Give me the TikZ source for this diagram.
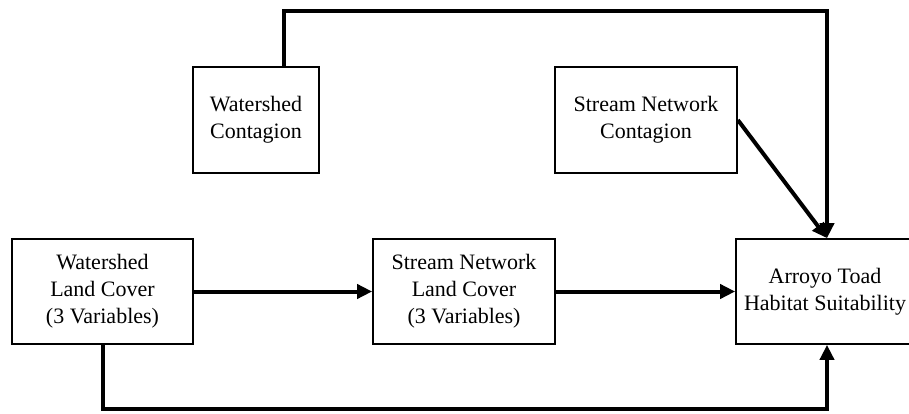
\documentclass[tikz,border=0pt]{standalone}
\usepackage{fontspec}
\setmainfont{Liberation Serif}
\usetikzlibrary{arrows.meta}

\tikzset{
  box/.style={draw, line width=1.7pt, fill=white, align=center, inner sep=0pt,
    font=\fontsize{22}{27}\selectfont, minimum height=105pt},
  conn/.style={line width=4pt, -{Triangle[length=15pt,width=14pt]}}
}

\begin{document}
\begin{tikzpicture}[x=1pt, y=-1pt]
  \useasboundingbox (0,0) rectangle (909,414);
  \clip (0,0) rectangle (909,414);

  % boxes
  \node[box, minimum width=126pt, minimum height=106pt] (wc) at (256,120) {Watershed\\Contagion};
  \node[box, minimum width=182pt, minimum height=106pt] (snc) at (646,120) {Stream Network\\Contagion};
  \node[box, minimum width=181pt] (wlc) at (102.5,291.5) {Watershed\\Land Cover\\(3 Variables)};
  \node[box, minimum width=182pt] (snlc) at (464,291.5) {Stream Network\\Land Cover\\(3 Variables)};
  \node[box, minimum width=178pt] (ats) at (825,291.5) {Arroyo Toad\\Habitat Suitability};

  % routing points
  \coordinate (tr) at (827,11);
  \coordinate (br) at (827,409);

  % connectors
  \draw[conn] (wlc.east) -- (snlc.west);
  \draw[conn] (snlc.east) -- (ats.west);
  \draw[conn] ([xshift=28pt]wc.north) |- (tr) -- (tr |- ats.north);
  \draw[conn] (snc.east) -- (tr |- ats.north);
  \draw[conn] ([xshift=0.5pt]wlc.south) |- (br) -- (br |- ats.south);
\end{tikzpicture}
\end{document}
